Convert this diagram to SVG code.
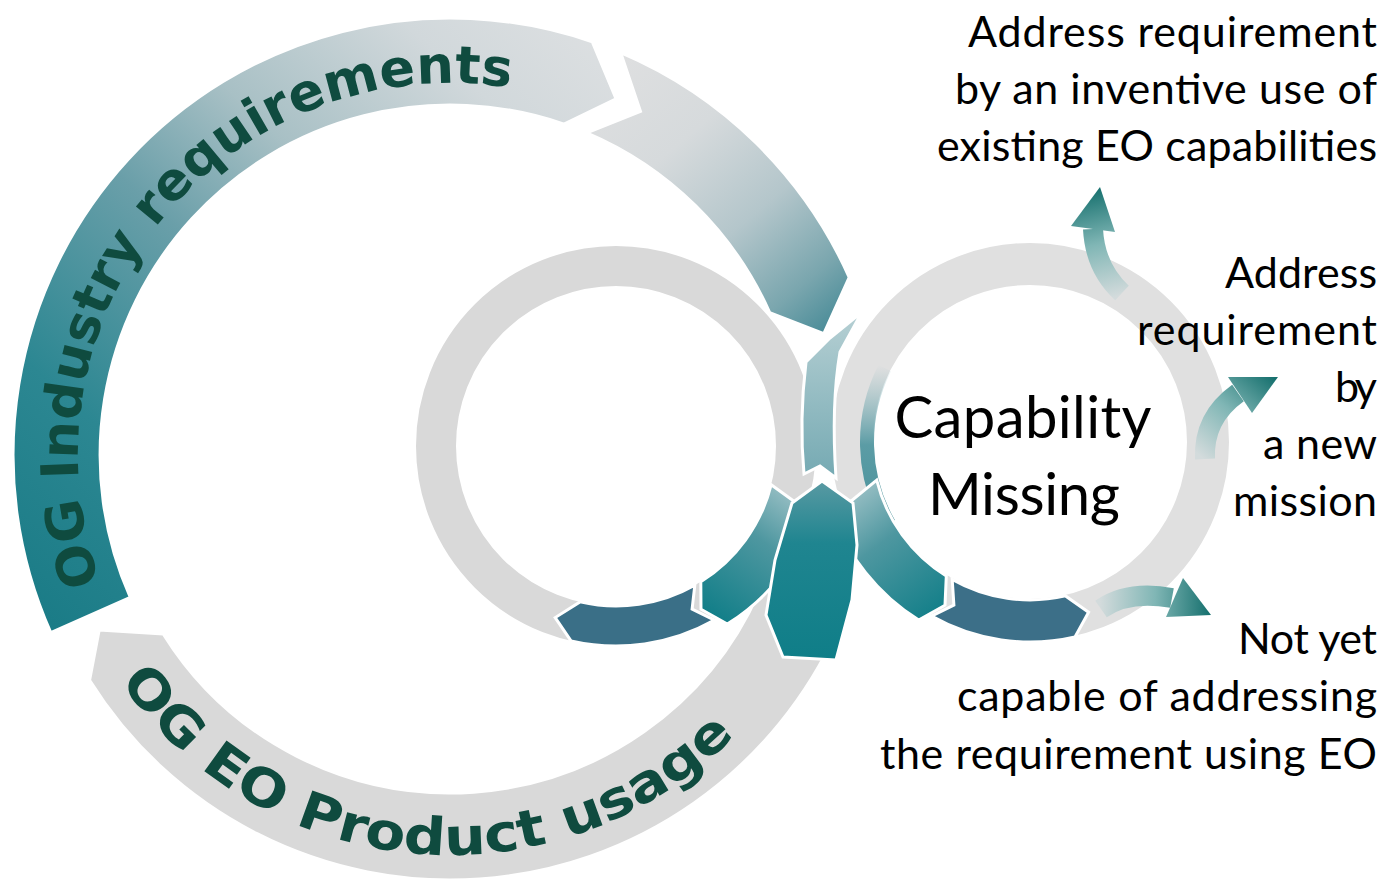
<svg xmlns="http://www.w3.org/2000/svg" width="1390" height="883" viewBox="0 0 1390 883">
<defs>
<style>
.edge{stroke:#fff;stroke-width:3;stroke-linejoin:miter}
.lbl{font-family:Lato,"Open Sans","Noto Sans",sans-serif;font-size:43px;fill:#000;text-anchor:end}
.big{font-family:Lato,"Open Sans","Noto Sans",sans-serif;font-size:58px;fill:#000;text-anchor:middle}
.arc{font-family:"DejaVu Sans","Liberation Sans",sans-serif;font-weight:bold;font-size:52px;fill:#0f4b3f}
.shaft{fill:none;stroke-width:20}
</style>
<linearGradient id="gSeg1" gradientUnits="userSpaceOnUse" x1="60" y1="630" x2="600" y2="40">
<stop offset="0" stop-color="#1b7c87"/>
<stop offset="0.22" stop-color="#2c8792"/>
<stop offset="0.47" stop-color="#6a9fa9"/>
<stop offset="0.64" stop-color="#a8c0c5"/>
<stop offset="0.85" stop-color="#d1d8db"/>
<stop offset="1" stop-color="#dcdfe1"/>
</linearGradient>
<linearGradient id="gSeg2" gradientUnits="userSpaceOnUse" x1="620" y1="60" x2="840" y2="320">
<stop offset="0" stop-color="#dedfe0"/>
<stop offset="0.3" stop-color="#d6dadc"/>
<stop offset="0.6" stop-color="#b4c6cb"/>
<stop offset="0.85" stop-color="#7aa6ae"/>
<stop offset="1" stop-color="#4a8c98"/>
</linearGradient>
<linearGradient id="gTrunk" gradientUnits="userSpaceOnUse" x1="0" y1="480" x2="0" y2="660">
<stop offset="0" stop-color="#5a9aa3"/>
<stop offset="0.35" stop-color="#1f8590"/>
<stop offset="1" stop-color="#0f7e88"/>
</linearGradient>
<linearGradient id="gArmL" gradientUnits="userSpaceOnUse" x1="800" y1="495" x2="715" y2="615">
<stop offset="0" stop-color="#9cc1c6"/>
<stop offset="0.4" stop-color="#4e97a0"/>
<stop offset="1" stop-color="#137f89"/>
</linearGradient>
<linearGradient id="gArmR" gradientUnits="userSpaceOnUse" x1="845" y1="495" x2="935" y2="615">
<stop offset="0" stop-color="#9cc1c6"/>
<stop offset="0.4" stop-color="#4e97a0"/>
<stop offset="1" stop-color="#137f89"/>
</linearGradient>
<linearGradient id="gLens" gradientUnits="userSpaceOnUse" x1="0" y1="315" x2="0" y2="480">
<stop offset="0" stop-color="#b5cfd3"/>
<stop offset="1" stop-color="#74a9b2"/>
</linearGradient>
<linearGradient id="gSliver" gradientUnits="userSpaceOnUse" x1="0" y1="365" x2="0" y2="525">
<stop offset="0" stop-color="#7fb0b7" stop-opacity="0"/>
<stop offset="0.5" stop-color="#5b9ca5"/>
<stop offset="1" stop-color="#4a929b"/>
</linearGradient>
<linearGradient id="gA1" gradientUnits="userSpaceOnUse" x1="1122" y1="295" x2="1096" y2="188">
<stop offset="0" stop-color="#d3dbdc"/>
<stop offset="0.5" stop-color="#80b6b5"/>
<stop offset="1" stop-color="#16706e"/>
</linearGradient>
<linearGradient id="gA2" gradientUnits="userSpaceOnUse" x1="1205" y1="460" x2="1275" y2="378">
<stop offset="0" stop-color="#d3dbdc"/>
<stop offset="0.5" stop-color="#80b6b5"/>
<stop offset="1" stop-color="#16706e"/>
</linearGradient>
<linearGradient id="gA3" gradientUnits="userSpaceOnUse" x1="1100" y1="610" x2="1210" y2="612">
<stop offset="0" stop-color="#d3dbdc"/>
<stop offset="0.5" stop-color="#80b6b5"/>
<stop offset="1" stop-color="#16706e"/>
</linearGradient>
<path id="pTop" d="M105.1,594.4 A372 372 0 0 1 577.2,105.4"/>
<path id="pBot" d="M110.8,667 A400 400 0 0 0 756.4,712.1"/>
</defs>
<rect width="1390" height="883" fill="#fff"/>

<g id="ring-left">
<circle cx="616" cy="446" r="180" fill="none" stroke="#d9d9d9" stroke-width="40"/>
</g>
<g id="ring-right">
<circle cx="1030" cy="442" r="178" fill="none" stroke="#e0e0e0" stroke-width="42"/>
<path d="M884.8,368 A163 163 0 0 0 888.8,523.5" fill="none" stroke="url(#gSliver)" stroke-width="14"/>
</g>

<g id="arrow-industry-requirements">
<path class="edge" fill="url(#gSeg1)" d="M50.8,632.7 A437 437 0 0 1 592.3,41.8 L616.1,98.8 L564,124.1 A350 350 0 0 0 130.3,597.3 Z"/>
<text class="arc"><textPath href="#pTop" startOffset="13" textLength="775" lengthAdjust="spacingAndGlyphs">OG Industry requirements</textPath></text>
</g>
<g id="arrow-upper-right">
<path class="edge" fill="url(#gSeg2)" d="M620.7,52.7 A437 437 0 0 1 849.2,277.3 L823.8,333.6 L769.7,312.6 A350 350 0 0 0 586.7,132.8 L640.5,111.3 Z"/>
</g>
<g id="arrow-product-usage">
<path class="edge" fill="#d9d9d9" d="M89.6,680.2 A425 425 0 0 0 838.3,627.9 L814.3,566.4 L758.8,592.5 A338 338 0 0 1 163.4,634.1 L99.2,629.9 Z"/>
<text class="arc"><textPath href="#pBot" startOffset="17" textLength="705" lengthAdjust="spacingAndGlyphs">OG EO Product usage</textPath></text>
</g>

<g id="seg-left-bottom">
<path class="edge" fill="#3a6f87" d="M694.8,585.3 L692.1,609.1 L714.5,620.1 A200 200 0 0 1 571,640.9 L555.2,617.6 L580,601.9 A160 160 0 0 0 694.8,585.3 Z"/>
</g>
<g id="seg-right-bottom">
<path class="edge" fill="#3c6f88" d="M952.2,579.5 L953.9,605.1 L931.5,616.1 A200 200 0 0 0 1075,636.9 L1088.6,612.2 L1065.5,595.9 A158 158 0 0 1 952.2,579.5 Z"/>
</g>

<g id="center-junction">
<path class="edge" fill="url(#gLens)" d="M806,362 Q799,420 804,474 L820,466 L836,478 Q831,405 840,352 L862,312 L830,338 Z"/>
<path class="edge" fill="url(#gArmL)" d="M771.2,484.7 L795,502 L814.6,514.4 A210 210 0 0 1 727.3,624.1 L701,609.2 L700.8,581.7 A160 160 0 0 0 771.2,484.7 Z"/>
<path class="edge" fill="url(#gArmR)" d="M876.7,480.2 L850,502 L831.4,510.4 A210 210 0 0 0 918.7,620.1 L945,605.2 L946.3,576 A158 158 0 0 1 876.7,480.2 Z"/>
<path class="edge" fill="url(#gTrunk)" d="M822,481 L853,503 L857,545 L852,600 L836,660 L783,657 L766,615 L775,560 L792,503 Z"/>
</g>

<g id="outcome-arrows">
<path class="shaft" stroke="url(#gA1)" d="M1122,293 Q1095,268 1093,229"/>
<polygon fill="url(#gA1)" points="1071,226 1100,187 1115,232"/>
<path class="shaft" stroke="url(#gA2)" d="M1205,459 Q1203,418 1238,393"/>
<polygon fill="url(#gA2)" points="1228,377 1278,377 1252,413"/>
<path class="shaft" stroke="url(#gA3)" stroke-width="19" d="M1101,609 Q1128,590 1172,598"/>
<polygon fill="url(#gA3)" points="1183,578 1211,615 1166,617"/>
</g>

<g id="node-capability-missing">
<text class="big" x="1023" y="438" textLength="257">Capability</text>
<text class="big" x="1024" y="515" textLength="192">Missing</text>
</g>
<g id="node-existing-capabilities">
<text class="lbl" x="1377" y="47" textLength="409">Address requirement</text>
<text class="lbl" x="1377" y="104" textLength="422">by an inventive use of</text>
<text class="lbl" x="1377" y="161" textLength="440">existing EO capabilities</text>
</g>
<g id="node-new-mission">
<text class="lbl" x="1377" y="288" textLength="152">Address</text>
<text class="lbl" x="1377" y="345" textLength="240">requirement</text>
<text class="lbl" x="1377" y="402" textLength="42">by</text>
<text class="lbl" x="1377" y="459" textLength="114">a new</text>
<text class="lbl" x="1377" y="516" textLength="144">mission</text>
</g>
<g id="node-not-yet-capable">
<text class="lbl" x="1377" y="654" textLength="139">Not yet</text>
<text class="lbl" x="1377" y="711" textLength="420">capable of addressing</text>
<text class="lbl" x="1377" y="769" textLength="497">the requirement using EO</text>
</g>
</svg>
